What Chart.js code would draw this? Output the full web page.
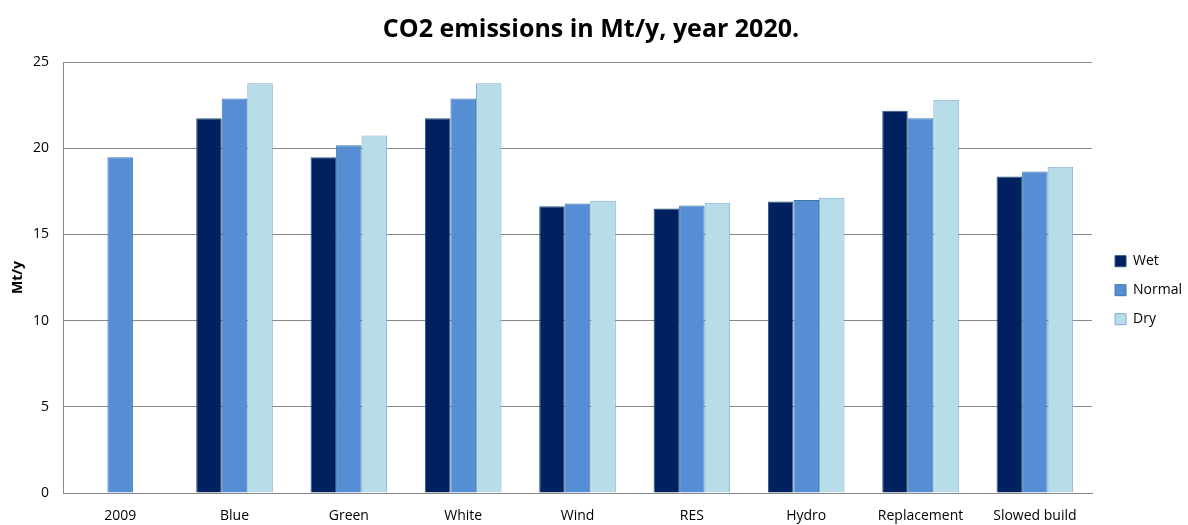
<!DOCTYPE html>
<html>
<head>
<meta charset="utf-8">
<title>CO2 emissions</title>
<script src="https://cdn.jsdelivr.net/npm/chart.js@4"></script>
<style>
  html, body { margin: 0; padding: 0; background: #fff; }
  #wrap { width: 1188px; height: 525px; }
</style>
</head>
<body>
<div id="wrap"><canvas id="co2-chart"></canvas></div>
<script>
// Scenario names on the x axis
const scenarios = ["2009", "Blue", "Green", "White", "Wind", "RES", "Hydro", "Replacement", "Slowed build"];

// Emissions per hydrological year type, Mt/y (2009 is a single historic value)
const wetValues    = [null, 21.73, 19.48, 21.73, 16.64, 16.50, 16.91, 22.17, 18.36];
const normalValues = [19.48, 22.89, 20.17, 22.89, 16.79, 16.68, 17.00, 21.73, 18.65];
const dryValues    = [null, 23.77, 20.73, 23.77, 16.95, 16.83, 17.12, 22.81, 18.92];

const yTicks = [0, 5, 10, 15, 20, 25];

const FONT = "'Open Sans', 'Noto Sans', sans-serif";

// nudge legend away from the plot, and the title a bit to the left
const blockNudge = {
    id: "blockNudge",
    afterLayout(chart) {
        if (chart.legend) {
            chart.legend.left += 8;
            chart.legend.right += 8;
        }
        if (chart.titleBlock) {
            chart.titleBlock.left -= 6;
            chart.titleBlock.right -= 6;
        }
    }
};

document.addEventListener("DOMContentLoaded", function () {
    const ctx = document.getElementById("co2-chart").getContext("2d");

    new Chart(ctx, {
        type: "bar",
        data: {
            labels: scenarios,
            datasets: [
                { label: "Wet", data: wetValues, backgroundColor: "#002060", borderColor: "#25587a", borderWidth: 1 },
                { label: "Normal", data: normalValues, backgroundColor: "#558ed5", borderColor: "#3a78a8", borderWidth: 1 },
                { label: "Dry", data: dryValues, backgroundColor: "#b7dde8", borderColor: "#82a8d6", borderWidth: 1 }
            ]
        },
        plugins: [blockNudge],
        options: {
            responsive: true,
            maintainAspectRatio: false,
            animation: false,
            layout: { padding: { left: 10, right: 4, top: 5, bottom: 0 } },
            datasets: {
                bar: { categoryPercentage: 0.67, barPercentage: 1.0, borderSkipped: "bottom" }
            },
            plugins: {
                title: {
                    display: true,
                    text: "CO2 emissions in Mt/y, year 2020.",
                    color: "#000",
                    font: { family: FONT, size: 25, weight: "bold" },
                    padding: { top: 10, bottom: 17 }
                },
                legend: {
                    position: "right",
                    title: { display: true, text: " ", padding: 18 },
                    labels: {
                        color: "#000",
                        font: { family: FONT, size: 14 },
                        boxWidth: 11,
                        boxHeight: 11,
                        padding: 15
                    }
                },
                tooltip: { enabled: false }
            },
            scales: {
                x: {
                    afterFit: axis => { axis.height = 32; },
                    grid: { display: false, drawTicks: false },
                    border: { display: true, color: "#888", width: 1 },
                    ticks: { color: "#000", font: { family: FONT, size: 14 }, padding: 15, maxRotation: 0 }
                },
                y: {
                    min: 0,
                    max: 25,
                    afterFit: axis => { axis.width = 53; },
                    afterBuildTicks: axis => { axis.ticks = yTicks.map(v => ({ value: v })); },
                    grid: { color: "#888", lineWidth: 1, drawTicks: false },
                    border: { display: true, color: "#888", width: 1 },
                    title: {
                        display: true,
                        text: "Mt/y",
                        color: "#000",
                        font: { family: FONT, size: 14, weight: "bold" },
                        padding: { top: 0, bottom: 4 }
                    },
                    ticks: { color: "#000", font: { family: FONT, size: 14 }, padding: 14 }
                }
            }
        }
    });
});
</script>
</body>
</html>
